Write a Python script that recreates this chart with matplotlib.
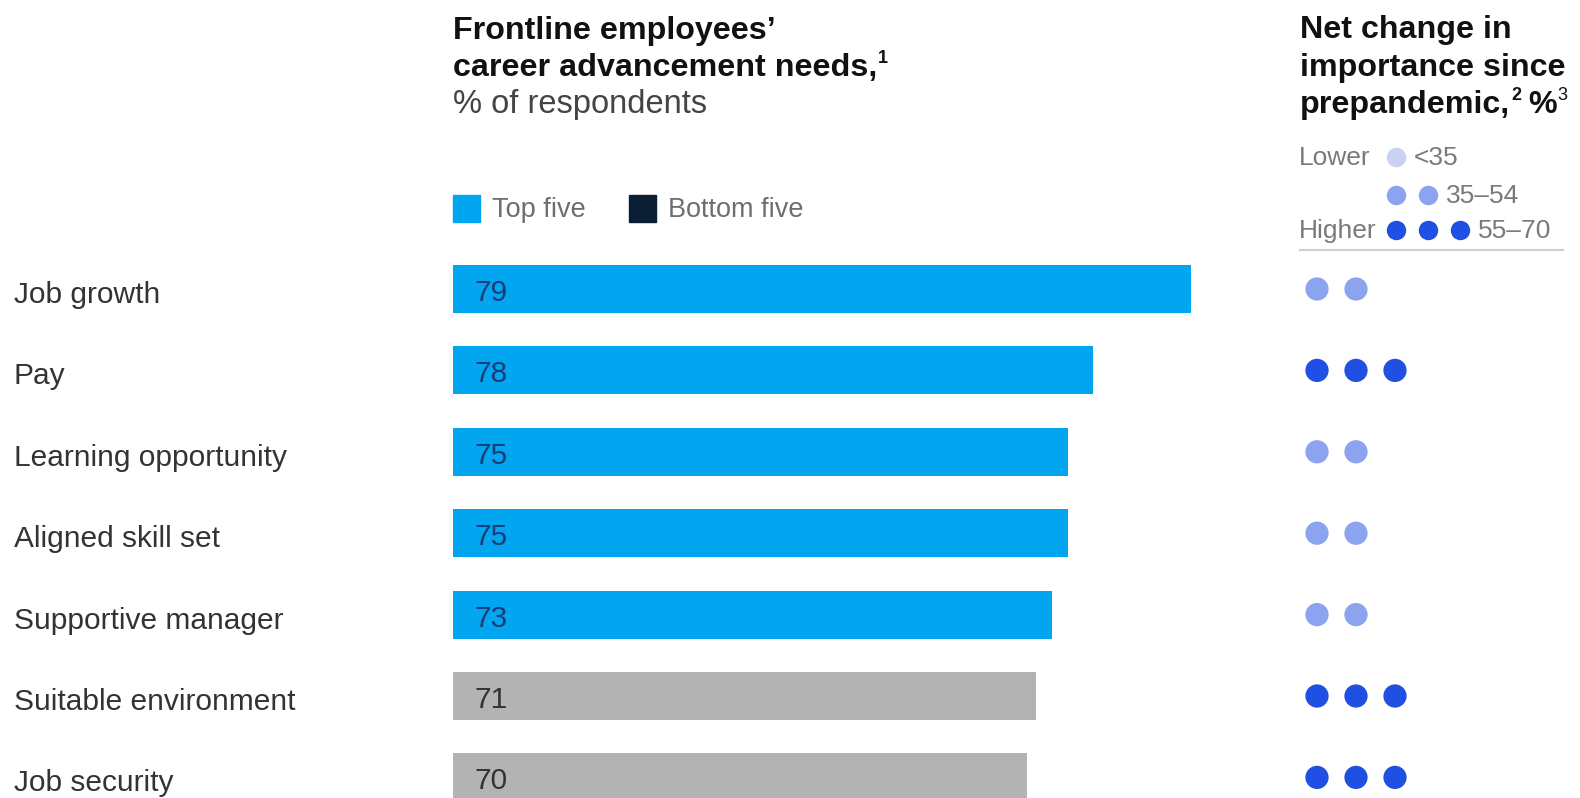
import matplotlib
matplotlib.use("Agg")
import matplotlib.pyplot as plt
from matplotlib.patches import Rectangle
from matplotlib.lines import Line2D
from matplotlib.transforms import blended_transform_factory

plt.rcParams['font.family'] = ['Liberation Sans', 'DejaVu Sans']

# ---------------- data ----------------
categories = ["Job growth", "Pay", "Learning opportunity", "Aligned skill set",
              "Supportive manager", "Suitable environment", "Job security"]
values = [79, 78, 75, 75, 73, 71, 70]            # printed labels
bar_lengths = [90, 78, 75, 75, 73, 71, 70]       # drawn lengths
groups = ["top", "top", "top", "top", "top", "other", "other"]
dot_counts = [2, 3, 2, 2, 2, 3, 3]
legend_labels = ["Top five", "Bottom five"]
range_labels = ["<35", "35\u201354", "55\u201370"]

# ---------------- styles ----------------
W, H = 1580, 798
BLUE = "#02A6F0"
GRAY_BAR = "#B3B3B3"
NAVY = "#0B1E33"
DOT_MID = "#8CA3F0"
DOT_DARK = "#1F4FE3"
DOT_LIGHT = "#C9D2F2"
bar_color = {"top": BLUE, "other": GRAY_BAR}
val_color = {"top": "#1A3D78", "other": "#333333"}
dot_color = {2: DOT_MID, 3: DOT_DARK, 1: DOT_LIGHT}

fig = plt.figure(figsize=(W / 100, H / 100), dpi=100)
fig.patch.set_facecolor("white")

def fx(x):
    return x / W

def fy(y):
    return 1 - y / H

# main bar axes: row centers start at 289 px, spacing 81.4 px; 1 unit = 8.205 px
row0, rowstep = 289.0, 81.4
unit = 8.205
ax_left, ax_top = 453.0, row0 - 0.5 * rowstep
ax_w = 100 * unit
ax_h = H - ax_top
ax = fig.add_axes([fx(ax_left), 0, ax_w / W, ax_h / H])
ax.set_xlim(0, 100)
ybot = (H - row0) / rowstep
ax.set_ylim(ybot, -0.5)
ax.axis("off")

rows = list(range(len(categories)))
ax.barh(rows, bar_lengths, height=0.59, left=0,
        color=[bar_color[g] for g in groups], edgecolor="none")

for r, v, g in zip(rows, values, groups):
    ax.text(2.6, r + 12 / rowstep, str(v), ha="left", va="baseline",
            fontsize=21.5, color=val_color[g])

trans_lab = blended_transform_factory(fig.transFigure, ax.transData)
for r, c in zip(rows, categories):
    ax.text(fx(14), r + 14 / rowstep, c, transform=trans_lab, ha="left",
            va="baseline", fontsize=21.5, color="#333333")

# dots axes
dstep = 39.0
d_left = 1290.0
dax = fig.add_axes([fx(d_left), 0, (W - d_left) / W, ax_h / H])
dax.set_xlim(-(1317 - d_left) / dstep, (W - 1317) / dstep)
dax.set_ylim(ybot, -0.5)
dax.axis("off")
for r, n in zip(rows, dot_counts):
    dax.scatter(list(range(n)), [r] * n, s=280, color=dot_color[n],
                edgecolors="none", clip_on=False)

# ---------------- titles ----------------
renderer = fig.canvas.get_renderer()

def sup_after(t, s, size, weight="normal", dy=14, color="#111111", gap=1):
    bb = t.get_window_extent(renderer)
    x1 = bb.x1 / W
    y = t.get_position()[1] + dy / H
    return fig.text(x1 + gap / W, y, s, fontsize=size, fontweight=weight,
                    color=color, ha="left", va="baseline")

TS = 23.2
fig.text(fx(453), fy(39), "Frontline employees\u2019", fontsize=TS,
         fontweight="bold", color="#111111", va="baseline")
t2 = fig.text(fx(453), fy(76), "career advancement needs,", fontsize=TS,
              fontweight="bold", color="#111111", va="baseline")
sup_after(t2, "1", 13, "bold", dy=13)
fig.text(fx(453), fy(113), "% of respondents", fontsize=23.5,
         color="#444444", va="baseline")

fig.text(fx(1300), fy(38), "Net change in", fontsize=TS,
         fontweight="bold", color="#111111", va="baseline")
fig.text(fx(1300), fy(76), "importance since", fontsize=TS,
         fontweight="bold", color="#111111", va="baseline")
r3 = fig.text(fx(1300), fy(113), "prepandemic,", fontsize=TS,
              fontweight="bold", color="#111111", va="baseline")
s2 = sup_after(r3, "2", 13, "bold", dy=13)
fig.canvas.draw()
bb = s2.get_window_extent(renderer)
pct = fig.text(bb.x1 / W + 7 / W, fy(113), "%", fontsize=TS,
               fontweight="bold", color="#111111", va="baseline")
sup_after(pct, "3", 13, "normal", dy=13)

# ---------------- bar legend ----------------
sq = 27
for x0, col, lab, tx in [(453, BLUE, legend_labels[0], 492),
                         (629, NAVY, legend_labels[1], 668)]:
    fig.patches.append(Rectangle((fx(x0), fy(222)), sq / W, sq / H,
                                 transform=fig.transFigure, color=col))
    fig.text(fx(tx), fy(217), lab, fontsize=19.5, color="#6E6E6E",
             va="baseline")

# ---------------- dot legend ----------------
lg_gray = "#7A7A7A"
fig.text(fx(1299), fy(165), "Lower", fontsize=19, color=lg_gray, va="baseline")
fig.text(fx(1299), fy(238), "Higher", fontsize=19, color=lg_gray, va="baseline")
leg_rows_y = [157, 195, 230]
leg_cols_x = [1396, 1428, 1460]
for k, (yy, lab, col) in enumerate(zip(leg_rows_y, range_labels,
                                       [DOT_LIGHT, DOT_MID, DOT_DARK])):
    n = k + 1
    xs = [fx(x) for x in leg_cols_x[:n]]
    fig.add_artist(Line2D(xs, [fy(yy)] * n, transform=fig.transFigure,
                          linestyle="none", marker="o", markersize=14,
                          color=col, markeredgewidth=0))
    fig.text(fx(leg_cols_x[n - 1] + 18), fy(yy + 8), lab, fontsize=19,
             color=lg_gray, va="baseline")
fig.add_artist(Line2D([fx(1300), fx(1563)], [fy(250), fy(250)],
                      transform=fig.transFigure, color="#D0D0D0", lw=1.5))

fig.savefig("out.png", dpi=100, facecolor="white")
